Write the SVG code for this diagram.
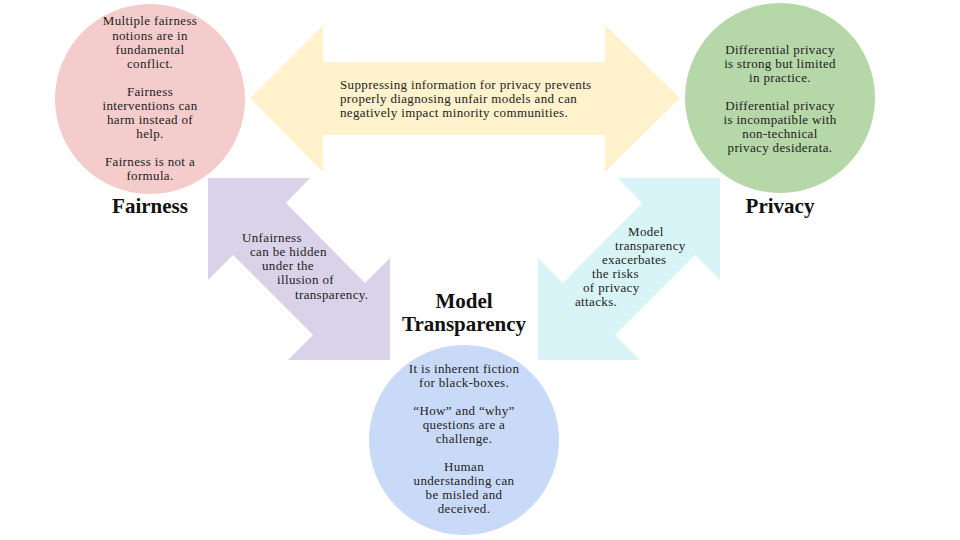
<svg xmlns="http://www.w3.org/2000/svg" width="960" height="540" viewBox="0 0 960 540">
<style>
.t{font-family:"Liberation Serif","DejaVu Serif",serif;font-size:13px;letter-spacing:0.35px;fill:#222;}
.c{text-anchor:middle;}
.h{font-family:"Liberation Serif","DejaVu Serif",serif;font-size:21px;font-weight:bold;fill:#111;text-anchor:middle;}
</style>
<rect width="960" height="540" fill="#ffffff"/>
<g id="connectors">
  <g id="fairness-privacy">
    <polygon points="250,98 323,25 323,62 605,62 605,25 680,98 605,172 605,135 323,135 323,172" fill="#fff2cc"/>
    <text class="t" x="340" y="89">Suppressing information for privacy prevents</text>
    <text class="t" x="340" y="103">properly diagnosing unfair models and can</text>
    <text class="t" x="340" y="117">negatively impact minority communities.</text>
  </g>
  <g id="fairness-transparency">
    <polygon points="208,178 310,178 286,203 365,283 390,258 390,360 288,360 313,335 233,255 208,280" fill="#d9d2e9"/>
    <text class="t" x="242" y="242">Unfairness</text>
    <text class="t" x="250" y="256">can be hidden</text>
    <text class="t" x="262" y="270">under the</text>
    <text class="t" x="277" y="284">illusion of</text>
    <text class="t" x="295" y="299">transparency.</text>
  </g>
  <g id="privacy-transparency">
    <polygon points="720,178 618,178 642,203 563,283 538,258 538,360 640,360 615,335 695,255 720,280" fill="#d9f4f7"/>
    <text class="t" x="628" y="236">Model</text>
    <text class="t" x="615" y="250">transparency</text>
    <text class="t" x="602" y="264">exacerbates</text>
    <text class="t" x="592" y="278">the risks</text>
    <text class="t" x="583" y="292">of privacy</text>
    <text class="t" x="575" y="306">attacks.</text>
  </g>
</g>
<g id="fairness">
  <circle cx="150" cy="99" r="95" fill="#f4cccc"/>
  <text class="t c" x="150" y="25">Multiple fairness</text>
  <text class="t c" x="150" y="40">notions are in</text>
  <text class="t c" x="150" y="54">fundamental</text>
  <text class="t c" x="150" y="68">conflict.</text>
  <text class="t c" x="150" y="96">Fairness</text>
  <text class="t c" x="150" y="110">interventions can</text>
  <text class="t c" x="150" y="124">harm instead of</text>
  <text class="t c" x="150" y="138">help.</text>
  <text class="t c" x="150" y="166">Fairness is not a</text>
  <text class="t c" x="150" y="180">formula.</text>
  <text class="h" x="150" y="213">Fairness</text>
</g>
<g id="privacy">
  <circle cx="780" cy="98" r="95" fill="#b6d7a8"/>
  <text class="t c" x="780" y="54">Differential privacy</text>
  <text class="t c" x="780" y="68">is strong but limited</text>
  <text class="t c" x="780" y="82">in practice.</text>
  <text class="t c" x="780" y="110">Differential privacy</text>
  <text class="t c" x="780" y="124">is incompatible with</text>
  <text class="t c" x="780" y="138">non-technical</text>
  <text class="t c" x="780" y="152">privacy desiderata.</text>
  <text class="h" x="780" y="213">Privacy</text>
</g>
<g id="model-transparency">
  <circle cx="464" cy="440" r="95" fill="#c9daf8"/>
  <text class="h" x="464" y="308">Model</text>
  <text class="h" x="464" y="331">Transparency</text>
  <text class="t c" x="464" y="373">It is inherent fiction</text>
  <text class="t c" x="464" y="387">for black-boxes.</text>
  <text class="t c" x="464" y="415">“How” and “why”</text>
  <text class="t c" x="464" y="429">questions are a</text>
  <text class="t c" x="464" y="443">challenge.</text>
  <text class="t c" x="464" y="471">Human</text>
  <text class="t c" x="464" y="485">understanding can</text>
  <text class="t c" x="464" y="499">be misled and</text>
  <text class="t c" x="464" y="513">deceived.</text>
</g>
</svg>
